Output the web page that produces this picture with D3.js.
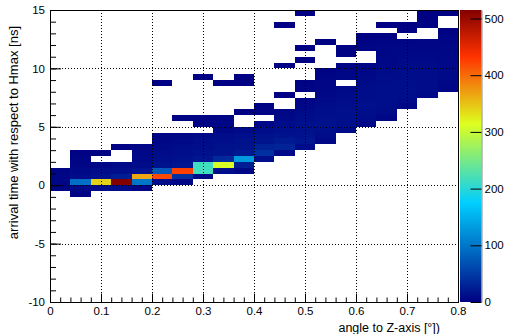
<!DOCTYPE html>
<html>
<head>
<meta charset="utf-8">
<script src="https://cdn.jsdelivr.net/npm/d3@7"></script>
<style>
  body { margin: 0; background: #fff; }
  svg { display: block; font-family: "Liberation Sans", Arial, Helvetica, sans-serif; }
</style>
</head>
<body>
<div id="chart"></div>
<script>
// binning of the 2D histogram
const xBinWidth = 0.04;   // 20 bins over [0, 0.8]
const yBinWidth = 0.5;    // bins over [-10, 15] ns

// lower edge of each filled time bin (top row first)
const yLow = [14.5, 14, 13.5, 13, 12.5, 12, 11.5, 11, 10.5, 10, 9.5, 9, 8.5, 8, 7.5, 7,
              6.5, 6, 5.5, 5, 4.5, 4, 3.5, 3, 2.5, 2, 1.5, 1, 0.5, 0, -0.5, -1];

// entries per bin, one row per yLow, 20 angle bins each
const counts = [
  [0,0,0,0,0,0,0,0,0,0,0,0,2,0,0,0,0,0,2,2],
  [0,0,0,0,0,0,0,0,0,0,0,0,0,0,0,0,0,0,2,0],
  [0,0,0,0,0,0,0,0,0,0,0,2,0,0,0,0,2,2,3,0],
  [0,0,0,0,0,0,0,0,0,0,0,0,0,0,0,0,0,3,0,2],
  [0,0,0,0,0,0,0,0,0,0,0,0,0,0,0,2,3,0,0,4],
  [0,0,0,0,0,0,0,0,0,0,0,0,0,2,0,3,4,4,5,4],
  [0,0,0,0,0,0,0,0,0,0,0,0,2,0,3,4,5,6,5,6],
  [0,0,0,0,0,0,0,0,0,0,0,0,0,0,3,0,6,7,7,6],
  [0,0,0,0,0,0,0,0,0,0,0,0,2,0,0,0,6,8,8,7],
  [0,0,0,0,0,0,0,0,0,0,0,2,0,0,4,5,7,9,9,8],
  [0,0,0,0,0,0,0,0,0,0,0,0,0,3,5,7,9,10,10,8],
  [0,0,0,0,0,0,0,2,0,2,0,0,0,4,6,8,10,11,10,8],
  [0,0,0,0,0,2,0,0,2,2,0,0,3,5,0,9,11,12,10,7],
  [0,0,0,0,0,0,0,0,0,0,0,0,4,6,8,10,12,12,10,6],
  [0,0,0,0,0,0,0,0,0,0,0,2,0,7,9,11,12,11,8,0],
  [0,0,0,0,0,0,0,0,0,0,0,0,5,8,10,12,12,9,0,0],
  [0,0,0,0,0,0,0,0,0,0,3,0,7,10,12,13,11,7,0,0],
  [0,0,0,0,0,0,0,0,0,2,4,6,9,12,13,12,9,0,0,0],
  [0,0,0,0,0,0,3,3,4,0,0,8,11,13,13,11,6,0,0,0],
  [0,0,0,0,0,0,0,4,5,0,7,10,13,14,12,8,0,0,0,0],
  [0,0,0,0,0,0,0,0,6,8,10,13,14,13,9,0,0,0,0,0],
  [0,0,0,0,0,4,6,8,10,12,14,15,16,10,0,0,0,0,0,0],
  [0,0,0,0,0,6,8,10,12,14,17,22,18,7,0,0,0,0,0,0],
  [0,0,0,3,5,8,10,12,14,16,28,30,10,0,0,0,0,0,0,0],
  [0,3,3,0,7,10,12,14,16,20,40,8,0,0,0,0,0,0,0,0],
  [0,4,0,0,8,12,14,18,35,130,12,0,0,0,0,0,0,0,0,0],
  [0,5,6,8,10,14,18,215,310,25,0,0,0,0,0,0,0,0,0,0],
  [4,8,10,12,15,75,425,215,12,6,0,0,0,0,0,0,0,0,0,0],
  [5,10,14,25,365,420,40,8,0,0,0,0,0,0,0,0,0,0,0,0],
  [6,95,340,515,100,10,5,0,0,0,0,0,0,0,0,0,0,0,0,0],
  [4,8,10,10,6,0,0,0,0,0,0,0,0,0,0,0,0,0,0,0],
  [0,3,0,0,0,0,0,0,0,0,0,0,0,0,0,0,0,0,0,0]
];

const xTicks = [0, 0.1, 0.2, 0.3, 0.4, 0.5, 0.6, 0.7, 0.8];
const yTicks = [-10, -5, 0, 5, 10, 15];
const zTicks = [0, 100, 200, 300, 400, 500];
const zMax = 515;

// rainbow palette (dark blue -> cyan -> yellow -> red -> dark red)
const paletteStops = [0, 0.34, 0.61, 0.84, 1];
const paletteColors = ["rgb(0,0,130)", "rgb(0,207,255)", "rgb(222,255,31)", "rgb(255,51,0)", "rgb(130,0,0)"];

const W = 507, H = 334;
const frame = { left: 50, right: 458, top: 10, bottom: 302 };
const bar = { left: 460, right: 481.5 };

const svg = d3.select("#chart").append("svg")
  .attr("width", W).attr("height", H);

const x = d3.scaleLinear().domain([0, 0.8]).range([frame.left, frame.right]);
const y = d3.scaleLinear().domain([-10, 15]).range([frame.bottom, frame.top]);
const z = d3.scaleLinear().domain([0, zMax]).range([frame.bottom, frame.top]);
const color = d3.scaleLinear()
  .domain(paletteStops.map(s => s * zMax))
  .range(paletteColors)
  .clamp(true);

// flatten the table into cells
const cells = [];
counts.forEach((row, r) => {
  row.forEach((v, c) => {
    if (v > 0) cells.push({ x0: c * xBinWidth, y0: yLow[r], v: v });
  });
});

svg.append("g")
  .attr("shape-rendering", "crispEdges")
  .selectAll("rect")
  .data(cells)
  .enter().append("rect")
  .attr("x", d => x(d.x0))
  .attr("y", d => y(d.y0 + yBinWidth))
  .attr("width", d => x(d.x0 + xBinWidth) - x(d.x0))
  .attr("height", d => y(d.y0) - y(d.y0 + yBinWidth))
  .attr("fill", d => color(d.v));

// dotted grid on top of the histogram
const grid = svg.append("g")
  .attr("stroke", "#000")
  .attr("stroke-width", 1)
  .attr("stroke-dasharray", "1,2")
  .attr("shape-rendering", "crispEdges");
grid.selectAll(".gx")
  .data(xTicks.slice(1, -1))
  .enter().append("line")
  .attr("x1", d => Math.round(x(d)) + 0.5).attr("x2", d => Math.round(x(d)) + 0.5)
  .attr("y1", frame.top).attr("y2", frame.bottom);
grid.selectAll(".gy")
  .data(yTicks.slice(1, -1))
  .enter().append("line")
  .attr("y1", d => Math.round(y(d)) + 0.5).attr("y2", d => Math.round(y(d)) + 0.5)
  .attr("x1", frame.left).attr("x2", frame.right);

// frame
svg.append("rect")
  .attr("x", frame.left).attr("y", frame.top)
  .attr("width", frame.right - frame.left).attr("height", frame.bottom - frame.top)
  .attr("fill", "none").attr("stroke", "#000").attr("stroke-width", 1)
  .attr("shape-rendering", "crispEdges");

// axes with inward ticks
const xMinor = d3.range(0, 0.8001, 0.02);
const yMinor = d3.range(-10, 15.001, 1);

const xAxisG = svg.append("g").attr("transform", `translate(0,${frame.bottom})`);
xAxisG.append("g").call(d3.axisBottom(x).tickValues(xMinor).tickSize(-4.5).tickSizeOuter(0).tickFormat(""));
xAxisG.append("g").call(d3.axisBottom(x).tickValues(xTicks).tickSize(-8.5).tickSizeOuter(0)
  .tickPadding(5).tickFormat(d => String(d)));

const yAxisG = svg.append("g").attr("transform", `translate(${frame.left},0)`);
yAxisG.append("g").call(d3.axisLeft(y).tickValues(yMinor).tickSize(-6).tickSizeOuter(0).tickFormat(""));
yAxisG.append("g").call(d3.axisLeft(y).tickValues(yTicks).tickSize(-11).tickSizeOuter(0)
  .tickPadding(5).tickFormat(d => String(d)));

svg.selectAll(".tick text")
  .attr("fill", "#000")
  .style("font-size", "11.5px");
svg.selectAll(".domain").attr("stroke", "#000");

// colour bar
const defs = svg.append("defs");
const grad = defs.append("linearGradient")
  .attr("id", "palette")
  .attr("x1", 0).attr("y1", 1).attr("x2", 0).attr("y2", 0);
grad.selectAll("stop")
  .data(paletteStops)
  .enter().append("stop")
  .attr("offset", d => d)
  .attr("stop-color", (d, i) => paletteColors[i]);

svg.append("rect")
  .attr("x", bar.left).attr("y", frame.top)
  .attr("width", bar.right - bar.left).attr("height", frame.bottom - frame.top)
  .attr("fill", "url(#palette)");

const zAxisG = svg.append("g").attr("transform", `translate(${bar.right},0)`);
zAxisG.call(d3.axisRight(z).tickValues(zTicks).tickSize(-11).tickSizeOuter(0)
  .tickPadding(3).tickFormat(d => String(d)));
zAxisG.selectAll(".tick text").attr("fill", "#000").style("font-size", "11.5px");
zAxisG.select(".domain").attr("stroke", "#888");

// titles
svg.append("text")
  .attr("x", 440).attr("y", 332)
  .attr("text-anchor", "end")
  .style("font-size", "12.5px")
  .text("angle to Z-axis [°])");

svg.append("text")
  .attr("transform", "translate(18,26) rotate(-90)")
  .attr("text-anchor", "end")
  .style("font-size", "13px")
  .text("arrival time with respect to Hmax [ns]");
</script>
</body>
</html>
